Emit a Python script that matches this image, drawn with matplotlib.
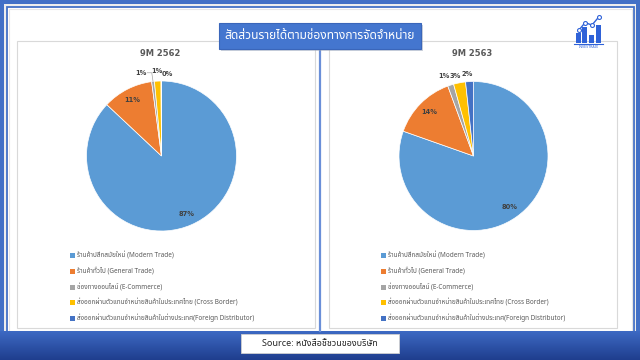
import numpy as np
import matplotlib
matplotlib.use("Agg")
import matplotlib.pyplot as plt
from matplotlib import font_manager
from matplotlib.ft2font import FT2Font
from matplotlib.patches import Rectangle
import matplotlib.colors as mcolors

# data
categories = [
    'ร้านค้าปลีกสมัยใหม่ (Modern Trade)',
    'ร้านค้าทั่วไป (General Trade)',
    'ช่องทางออนไลน์ (E-Commerce)',
    'ส่งออกผ่านตัวแทนจำหน่ายสินค้าในประเทศไทย (Cross Border)',
    'ส่งออกผ่านตัวแทนจำหน่ายสินค้าในต่างประเทศ(Foreign Distributor)',
]
periods = ['9M 2562', '9M 2563']
share_2562 = [87.0, 10.9, 0.6, 1.4, 0.1]
share_2563 = [80.4, 14.0, 1.3, 2.6, 1.7]
colors = ['#5B9BD5', '#ED7D31', '#A5A5A5', '#FFC000', '#4472C4']
title = 'สัดส่วนรายได้ตามช่องทางการจัดจำหน่าย'
source = 'Source: หนังสือชี้ชวนของบริษัท'


def find_thai_font():
    # pick any installed font that has Thai glyphs
    names = []
    for f in font_manager.fontManager.ttflist:
        try:
            if 0x0E01 in FT2Font(f.fname).get_charmap():
                names.append(f.name)
        except Exception:
            pass
    for pref in ['Noto Sans Thai', 'Noto Sans Thai UI', 'Tahoma', 'Leelawadee UI', 'Garuda', 'Loma']:
        if pref in names:
            return pref
    return names[0] if names else 'DejaVu Sans'


thai = find_thai_font()
fam = [thai, 'DejaVu Sans']
plt.rcParams['font.family'] = fam

W, H = 640, 360
fig = plt.figure(figsize=(6.4, 3.6), dpi=100)
fig.patch.set_facecolor('#4270C6')

bg = fig.add_axes([0, 0, 1, 1])
bg.set_xlim(0, W)
bg.set_ylim(H, 0)
bg.axis('off')

# frame
bg.add_patch(Rectangle((4, 4), 632, 327, facecolor='#EDEDED', edgecolor='none'))
bg.add_patch(Rectangle((6.5, 6.5), 627, 330, facecolor='white', edgecolor='#4270C6', lw=1.3))
bg.add_patch(Rectangle((8.5, 8.5), 623, 322, facecolor='white', edgecolor='#E6E6E6', lw=0.8))

# bottom band gradient
grad = np.linspace(0, 1, 50).reshape(-1, 1)
cmap = mcolors.LinearSegmentedColormap.from_list('band', ['#3D69C3', '#1F3E8E'])
bg.imshow(grad, cmap=cmap, extent=[0, W, 360, 331], aspect='auto', zorder=1)

# panels
bg.add_patch(Rectangle((17, 41), 298, 287, facecolor='white', edgecolor='#D9D9D9', lw=0.8, zorder=2))
bg.add_patch(Rectangle((329, 41), 288, 287, facecolor='white', edgecolor='#D9D9D9', lw=0.8, zorder=2))
bg.plot([320, 320], [48, 331], color='#6A8FD8', lw=1.6, zorder=3)

# title box
bg.add_patch(Rectangle((221, 24.5), 202, 26, facecolor='#9AA5B8', edgecolor='none', alpha=0.5, zorder=4))
bg.add_patch(Rectangle((219, 22.5), 202, 26, facecolor='#4476CF', edgecolor='#3A66BA', lw=0.8, zorder=5))
bg.text(320, 35.5, title, color='white', fontsize=8.6, ha='center', va='center', zorder=6)

# source box
bg.add_patch(Rectangle((241, 334), 158, 19, facecolor='white', edgecolor='#D0D0D0', lw=0.6, zorder=4))
bg.text(320, 343.5, source, color='#262626', fontsize=6.5, ha='center', va='center', zorder=5)

# logo
logo_x = [576, 582, 589, 596]
logo_top = [33, 27, 35, 25]
for lx, lt in zip(logo_x, logo_top):
    bg.add_patch(Rectangle((lx, lt), 4.5, 43 - lt, facecolor='#2F62D8', edgecolor='none', zorder=4))
line_x = [579, 585, 592, 599]
line_y = [30, 22.7, 25, 16.7]
bg.plot(line_x, line_y, color='#2F62D8', lw=1, zorder=5)
bg.scatter(line_x, line_y, s=8, facecolor='white', edgecolor='#2F62D8', lw=0.8, zorder=6)
bg.plot([574, 603], [43.5, 43.5], color='#2F62D8', lw=0.8, zorder=5)
bg.text(588.5, 46.5, 'INVESTRAIX', color='#2F62D8', fontsize=2.6, fontweight='bold',
        ha='center', va='center', zorder=5)

# pies
pies = [
    dict(cx=161.5, cy=156, r=75, vals=share_2562, small=[(-0.27, 1.11), (-0.06, 1.13), (0.08, 1.09)],
         lx=72, leader=True),
    dict(cx=473.5, cy=156, r=74.5, vals=share_2563, small=[(-0.40, 1.07), (-0.24, 1.08), (-0.08, 1.10)],
         lx=383, leader=False),
]
legend_y = [255.7, 271.3, 287.0, 302.6, 318.2]

for name, p in zip(periods, pies):
    cx, cy, r = p['cx'], p['cy'], p['r']
    ax = fig.add_axes([(cx - r) / W, 1 - (cy + r) / H, 2 * r / W, 2 * r / H])
    ax.pie(p['vals'], colors=colors, startangle=90, counterclock=False,
           wedgeprops=dict(edgecolor='white', linewidth=0.5))
    ax.set_xlim(-1, 1)
    ax.set_ylim(-1, 1)
    ax.set_aspect('auto')
    ax.axis('off')

    total = sum(p['vals'])
    cum = 0
    k = 0
    for v in p['vals']:
        mid = 90 - 360 * (cum + v / 2) / total
        cum += v
        lab = '%d%%' % round(v / total * 100)
        if v / total >= 0.05:
            t = np.deg2rad(mid)
            ax.text(0.84 * np.cos(t), 0.84 * np.sin(t), lab, fontsize=4.8, fontweight='bold',
                    color='#404040', ha='center', va='center', family='DejaVu Sans')
        else:
            sx, sy = p['small'][k]
            ax.text(sx, sy, lab, fontsize=4.8, fontweight='bold', color='#404040',
                    ha='center', va='center', family='DejaVu Sans', clip_on=False)
            if p['leader'] and k == 0:
                t = np.deg2rad(mid)
                ax.plot([sx + 0.08, sx + 0.14, np.cos(t) * 1.0], [sy, sy, np.sin(t) * 1.0],
                        color='#A5A5A5', lw=0.5, clip_on=False)
            k += 1

    bg.text(cx - 1, 54, name, fontsize=6, fontweight='bold', color='#595959',
            ha='center', va='center', family='DejaVu Sans', zorder=5)

    lx = p['lx']
    for c, cat, y in zip(colors, categories, legend_y):
        bg.add_patch(Rectangle((lx - 2.5, y - 2.5), 5, 5, facecolor=c, edgecolor='none', zorder=5))
        bg.text(lx + 5, y, cat, fontsize=4.6, color='#595959', ha='left', va='center', zorder=5)

fig.savefig('out.png', dpi=100, facecolor=fig.get_facecolor())
